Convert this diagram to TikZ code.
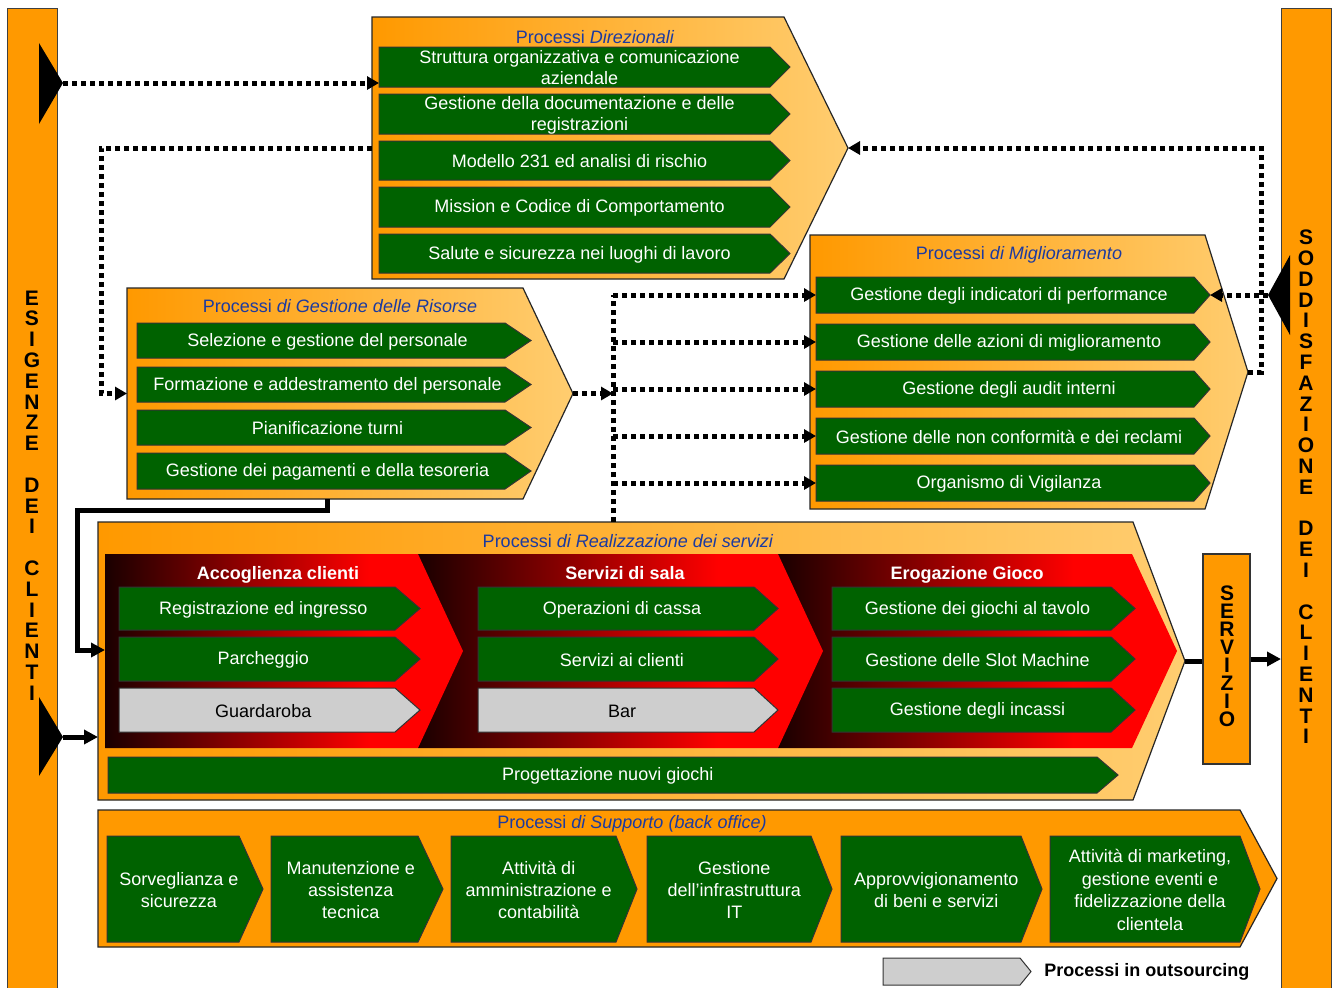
\documentclass[tikz,border=0pt]{standalone}
\usepackage{fontspec}
\setmainfont{Liberation Sans}
\usetikzlibrary{arrows.meta,calc}
\definecolor{orng}{RGB}{255,153,0}
\definecolor{orngl}{RGB}{255,205,112}
\definecolor{grn}{RGB}{0,98,0}
\definecolor{ttlblue}{RGB}{28,58,160}
\definecolor{gry}{RGB}{206,206,206}
\definecolor{dkred}{RGB}{26,0,0}
\definecolor{rd}{RGB}{255,0,0}
\pgfdeclarehorizontalshading{redsh}{100bp}{color(0bp)=(dkred); color(25bp)=(dkred); color(62bp)=(rd); color(100bp)=(rd)}

\newcommand\mychev[8]{%
  \path[#7] (#2,#5) -- (#3,#5) -- (#4,{(#5+#6)/2}) -- (#3,#6) -- (#2,#6) -- cycle;
  \coordinate (#1-w) at (#2,{(#5+#6)/2});
  \coordinate (#1-e) at (#4,{(#5+#6)/2});
  \node[wtxt] (#1) at ({(2*#2+#3+#4)/4},{(#5+#6)/2+1}) {#8};
}
\newcommand\mypent[7]{%
  \path[#7] (#2,#5) -- (#3,#5) -- (#4,{(#5+#6)/2}) -- (#3,#6) -- (#2,#6) -- cycle;
  \coordinate (#1-w) at (#2,{(#5+#6)/2});
  \coordinate (#1-e) at (#4,{(#5+#6)/2});
}

\begin{document}
\begin{tikzpicture}[x=0.5pt,y=-0.5pt,
  outerg/.style={draw=black!85, line width=0.6pt, left color=orng, right color=orngl},
  outerf/.style={draw=black!85, line width=0.6pt, fill=orng},
  gbox/.style={draw=black!80, line width=0.5pt, fill=grn},
  gybox/.style={draw=black!80, line width=0.5pt, fill=gry},
  redbox/.style={shade, shading=redsh},
  wtxt/.style={text=white, font=\fontsize{9}{10.5}\selectfont, align=center, inner sep=0pt},
  ttl/.style={text=ttlblue, font=\fontsize{9}{10}\selectfont, inner sep=0pt, text height=6.5pt, text depth=0pt},
  hdr/.style={text=white, font=\bfseries\fontsize{9}{10}\selectfont, inner sep=0pt, text height=6.5pt, text depth=0pt},
  vtxt/.style={font=\bfseries\fontsize{10.5}{10.4}\selectfont, align=center, inner sep=0pt},
  dotl/.style={line width=2.5pt, dash pattern=on 2.5pt off 2pt},
  dota/.style={dotl, -{Triangle[length=6pt,width=6.5pt]}},
  sola/.style={line width=2.5pt, -{Triangle[length=7pt,width=7pt]}},
  sol/.style={line width=2.5pt},
]
\useasboundingbox (0,0) rectangle (1337,987);
\fill[white] (0,0) rectangle (1337,987);

% side bars
\path[fill=orng, draw=black!75, line width=0.5pt] (7,8) rectangle (57,1000);
\path[fill=orng, draw=black!75, line width=0.5pt] (1281,8) rectangle (1331,1000);
\coordinate (rbar-w) at (1281,657);
\node[vtxt] (ltxt) at (32,495.5) {E\\S\\I\\G\\E\\N\\Z\\E\\~\\D\\E\\I\\~\\C\\L\\I\\E\\N\\T\\I};
\node[vtxt] (rtxt) at (1306,487) {S\\O\\D\\D\\I\\S\\F\\A\\Z\\I\\O\\N\\E\\~\\D\\E\\I\\~\\C\\L\\I\\E\\N\\T\\I};
\fill (39,43) -- (63,83) -- (39,124) -- cycle;
\coordinate (lt1) at (63,83);
\fill (39,697) -- (63,737) -- (39,776) -- cycle;
\coordinate (lt2) at (63,737);
\fill (1290,255) -- (1268,295) -- (1290,335) -- cycle;
\coordinate (rt1) at (1268,295);

% Processi Direzionali
\mypent{dir}{372}{784}{848}{17}{279}{outerg}
\node[ttl] (dirt) at (595,37) {Processi \textit{Direzionali}};
\mychev{d1}{379}{770}{790}{47}{87}{gbox}{Struttura organizzativa e comunicazione\\aziendale}
\mychev{d2}{379}{770}{790}{94}{134}{gbox}{Gestione della documentazione e delle\\registrazioni}
\mychev{d3}{379}{770}{790}{141}{180}{gbox}{Modello 231 ed analisi di rischio}
\mychev{d4}{379}{770}{790}{187}{227}{gbox}{Mission e Codice di Comportamento}
\mychev{d5}{379}{770}{790}{234}{273}{gbox}{Salute e sicurezza nei luoghi di lavoro}

% Risorse
\mypent{ris}{127}{523}{573}{288}{499}{outerg}
\coordinate (ris-s) at (327,499);
\node[ttl] (rist) at (340,306) {Processi \textit{di Gestione delle Risorse}};
\mychev{r1}{137}{505}{531}{323}{358}{gbox}{Selezione e gestione del personale}
\mychev{r2}{137}{505}{531}{367}{402}{gbox}{Formazione e addestramento del personale}
\mychev{r3}{137}{505}{531}{410}{445}{gbox}{Pianificazione turni}
\mychev{r4}{137}{505}{531}{453}{489}{gbox}{Gestione dei pagamenti e della tesoreria}

% Miglioramento
\mypent{mig}{810}{1205}{1248}{235}{509}{outerg}
\node[ttl] (migt) at (1019,253) {Processi \textit{di Miglioramento}};
\mychev{m1}{816}{1194}{1210}{277}{313}{gbox}{Gestione degli indicatori di performance}
\mychev{m2}{816}{1194}{1210}{324}{360}{gbox}{Gestione delle azioni di miglioramento}
\mychev{m3}{816}{1194}{1210}{371}{407}{gbox}{Gestione degli audit interni}
\mychev{m4}{816}{1194}{1210}{418}{454}{gbox}{Gestione delle non conformità e dei reclami}
\mychev{m5}{816}{1194}{1210}{465}{501}{gbox}{Organismo di Vigilanza}

% Realizzazione
\mypent{real}{98}{1133}{1185}{522}{800}{outerg}
\node[ttl] (realt) at (628,541) {Processi \textit{di Realizzazione dei servizi}};
\path[redbox] (778,554) -- (1132,554) -- (1177,651) -- (1132,748) -- (778,748) -- cycle;
\path[redbox] (418,554) -- (778,554) -- (823,651) -- (778,748) -- (418,748) -- cycle;
\path[redbox] (105,554) -- (418,554) -- (463,651) -- (418,748) -- (105,748) -- cycle;
\coordinate (acc-w) at (105,650);
\node[hdr] (h1) at (278,573) {Accoglienza clienti};
\node[hdr] (h2) at (625,573) {Servizi di sala};
\node[hdr] (h3) at (967,573) {Erogazione Gioco};
\mychev{a1}{119}{395}{420}{587}{630}{gbox}{Registrazione ed ingresso}
\mychev{a2}{119}{395}{420}{637}{681}{gbox}{Parcheggio}
\mychev{a3}{119}{395}{420}{688}{732}{gybox}{\textcolor{black}{Guardaroba}}
\mychev{b1}{478}{754}{778}{587}{630}{gbox}{Operazioni di cassa}
\mychev{b2}{478}{754}{778}{637}{681}{gbox}{Servizi ai clienti}
\mychev{b3}{478}{754}{778}{688}{732}{gybox}{\textcolor{black}{Bar}}
\mychev{c1}{832}{1111}{1135}{587}{630}{gbox}{Gestione dei giochi al tavolo}
\mychev{c2}{832}{1111}{1135}{637}{681}{gbox}{Gestione delle Slot Machine}
\mychev{c3}{832}{1111}{1135}{688}{732}{gbox}{Gestione degli incassi}
\mychev{pg}{108}{1097}{1118}{757}{793}{gbox}{Progettazione nuovi giochi}

% Servizio
\node[draw=black!80, fill=orng, line width=0.6pt, minimum width=23.5pt, minimum height=105pt, inner sep=0pt] (serv) at (1226.5,659) {};
\node[vtxt, font=\bfseries\fontsize{10.5}{9}\selectfont] (servt) at (1227,656) {S\\E\\R\\V\\I\\Z\\I\\O};

% Supporto
\mypent{sup}{98}{1240}{1277}{810}{947}{outerf}
\node[ttl] (supt) at (632,822) {Processi \textit{di Supporto (back office)}};
\tikzset{wtxt/.style={text=white, font=\fontsize{9}{11.2}\selectfont, align=center, inner sep=0pt}}
\mychev{s1}{107}{239}{263}{836}{942}{gbox}{Sorveglianza e\\sicurezza}
\mychev{s2}{271}{418}{443}{836}{942}{gbox}{Manutenzione e\\assistenza\\tecnica}
\mychev{s3}{451}{616}{637}{836}{942}{gbox}{Attività di\\amministrazione e\\contabilità}
\mychev{s4}{647}{811}{832}{836}{942}{gbox}{Gestione\\dell’infrastruttura\\IT}
\mychev{s5}{841}{1021}{1042}{836}{942}{gbox}{Approvvigionamento\\di beni e servizi}
\mychev{s6}{1050}{1240}{1260}{836}{942}{gbox}{Attività di marketing,\\gestione eventi e\\fidelizzazione della\\clientela}

% legend
\mychev{leg}{883}{1020}{1031}{958}{985}{gybox}{}
\node[anchor=west, inner sep=0pt, font=\bfseries\fontsize{9}{10}\selectfont] (legt) at (1044,972) {Processi in outsourcing};

% connectors
\coordinate (bus) at (613,295);
\coordinate (realtop) at (613,522);
\coordinate (rbus) at (1261,148);
\draw[dota] (lt1) -- (lt1 -| d1-w);
\draw[dota] (dir-w) -| ([xshift=-13pt]ris-w) -- (ris-w);
\draw[dota] (ris-e) -- (ris-e -| bus);
\draw[dotl] (realtop) -- (bus);
\draw[dota] (bus) -- (bus -| m1-w);
\draw[dota] (bus |- m2-w) -- (m2-w);
\draw[dota] (bus |- m3-w) -- (m3-w);
\draw[dota] (bus |- m4-w) -- (m4-w);
\draw[dota] (bus |- m5-w) -- (m5-w);
\draw[dota] (mig-e) -| (rbus) -- (dir-e);
\draw[dota] (rt1) -- (m1-e);
\draw[sola] (ris-s) -- ++(0,11) -| ([xshift=-14pt]acc-w) -- (acc-w);
\draw[sola] (lt2) -- (lt2 -| real-w);
\draw[sol] (real-e) -- (real-e -| serv.west);
\draw[sola] (serv.east) -- (serv.east -| rbar-w);
\end{tikzpicture}
\end{document}
